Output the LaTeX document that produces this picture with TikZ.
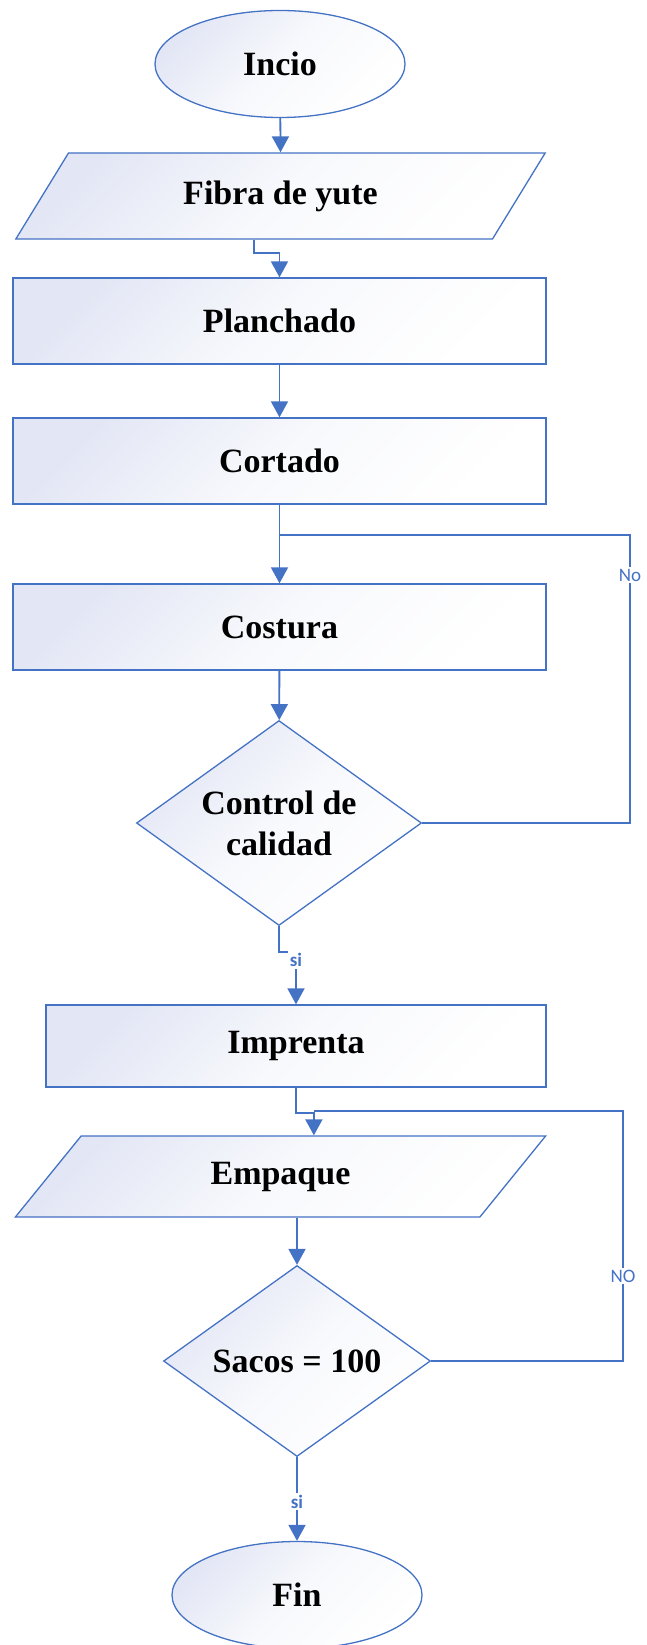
\documentclass[tikz,border=0pt]{standalone}
\usepackage{fontspec}
\setmainfont{Liberation Serif}
\newfontfamily\tagfont{Carlito}
\usetikzlibrary{positioning,shapes.geometric,arrows.meta}
\definecolor{flowblue}{HTML}{4472C4}
\definecolor{flowfill}{HTML}{E3E7F5}

\begin{document}
\begin{tikzpicture}[x=1pt,y=-1pt,
    box/.style={draw=flowblue, line width=1.3pt, top color=flowfill, bottom color=white,
      middle color=white!75!flowfill, shading angle=45,
      font=\fontsize{34}{41}\selectfont\bfseries, align=center, inner sep=0pt},
    procbox/.style={box, rectangle, minimum height=86pt},
    iobox/.style={box, trapezium, trapezium left angle=52, trapezium right angle=128,
      trapezium stretches=true, minimum width=531pt, minimum height=86pt},
    termbox/.style={box, ellipse, minimum width=250pt, minimum height=107pt},
    testbox/.style={box, diamond},
    link/.style={draw=flowblue, line width=1.8pt},
    flow/.style={link, -{Triangle[length=16pt,width=17pt]}},
    tag/.style={fill=white, text=flowblue, font=\tagfont\fontsize{19}{22}\selectfont, inner sep=2pt}]
      \useasboundingbox (0,0) rectangle (646,1645);
      \node[termbox] (incio) at (280,64) {Incio};
      \node[iobox] (fibra) at (280.5,196) {Fibra de yute};
      \node[procbox, minimum width=533pt] (planchado) at (279.5,321) {Planchado};
      \node[procbox, minimum width=533pt] (cortado) at (279.5,461) {Cortado};
      \node[procbox, minimum width=533pt] (costura) at (279.5,627) {Costura};
      \node[testbox, aspect=1.38, minimum width=285pt, minimum height=205pt] (control) at (279,823) {Control de\\calidad};
      \node[procbox, minimum width=500pt, minimum height=82pt] (imprenta) at (296,1046) {Imprenta};
      \node[iobox, minimum height=81pt] (empaque) at (280.5,1176.5) {Empaque};
      \node[testbox, aspect=1.4, minimum width=267pt, minimum height=191pt] (sacos) at (297,1361) {Sacos = 100};
      \node[termbox] (fin) at (297,1595) {Fin};
      \coordinate (noturn) at (630,535);
      \coordinate (NOturn) at (623,1111);
      \draw[flow] (incio) -- (fibra.north);
      \draw[flow] (fibra.bottom side) -- ++(0,13) -| (planchado.north);
      \draw[flow] (planchado) -- (cortado);
      \draw[flow] (cortado) -- (costura);
      \draw[flow] (costura) -- (control);
      \draw[link] (control.east) -- (noturn |- control.east) -- node[tag, pos=0.86] {No} (noturn) -- (cortado.south |- noturn);
      \draw[flow] (control.south) -- ++(0,26) -| (imprenta.north) node[tag, font=\tagfont\fontsize{19}{22}\selectfont\bfseries, pos=0.575] {si};
      \draw[flow] (imprenta.south) -- ++(0,25) -| (empaque.top side);
      \draw[link] (sacos.east) -- (NOturn |- sacos.east) -- node[tag, pos=0.34] {NO} (NOturn) -- (empaque.top side |- NOturn);
      \draw[flow] (sacos.north |- empaque.south) -- (sacos.north);
      \draw[flow] (sacos) -- node[tag, font=\tagfont\fontsize{19}{22}\selectfont\bfseries, pos=0.53] {si} (fin);
    \end{tikzpicture}
\end{document}
